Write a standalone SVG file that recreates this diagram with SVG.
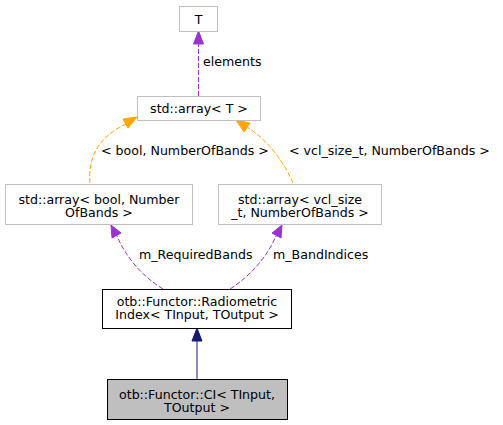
<svg xmlns="http://www.w3.org/2000/svg" width="503" height="425" viewBox="0 0 503 425">
<style>
text{font-family:"DejaVu Sans","Liberation Sans",sans-serif;font-size:12.6px;fill:#000}
.n{fill:#fff;stroke:#bfbfbf;stroke-width:1}
.b{fill:#fff;stroke:#000;stroke-width:1}
.g{fill:#bfbfbf;stroke:#000;stroke-width:1}
.o{fill:none;stroke:#ffa500;stroke-dasharray:5,2}
.p{fill:none;stroke:#9a32cd;stroke-dasharray:5,2}
.k{fill:none;stroke:#191970}
</style>
<rect width="503" height="425" fill="#fff"/>
<g id="edges">
<path class="p" d="M198.5,96 L198.5,42"/>
<polygon points="193.5,44 198.5,31 203.5,44" fill="#9a32cd" stroke="#9a32cd"/>
<text x="203" y="66">elements</text>
<path class="o" d="M90,183 C88,160 96,138 126,124"/>
<polygon points="123,119 137,117 128,128" fill="#ffa500" stroke="#ffa500"/>
<text x="101" y="155">&lt; bool, NumberOfBands &gt;</text>
<path class="o" d="M293,183 C284,162 268,140 247,127"/>
<polygon points="244,132 236,120 250,123" fill="#ffa500" stroke="#ffa500"/>
<text x="289" y="155">&lt; vcl_size_t, NumberOfBands &gt;</text>
<path class="p" d="M163,289 C140,275 125,255 117,236"/>
<polygon points="112,238 111,225 121,233" fill="#9a32cd" stroke="#9a32cd"/>
<text x="139" y="259">m_RequiredBands</text>
<path class="p" d="M230,289 C252,275 268,255 276,236"/>
<polygon points="272,233 282,225 281,238" fill="#9a32cd" stroke="#9a32cd"/>
<text x="273" y="259">m_BandIndices</text>
<path class="k" d="M197,379 L197,341"/>
<polygon points="192,341 197,328 202,341" fill="#191970" stroke="#191970"/>
</g>
<g id="T">
<rect class="n" x="179.5" y="6.5" width="38" height="25"/>
<text x="198.5" y="23.5" text-anchor="middle">T</text>
</g>
<g id="arrayT">
<rect class="n" x="137.5" y="96.5" width="123" height="24"/>
<text x="199" y="113" text-anchor="middle">std::array&lt; T &gt;</text>
</g>
<g id="arrayBool">
<rect class="n" x="5.5" y="184.5" width="187" height="40"/>
<text text-anchor="middle"><tspan x="99" y="203.5">std::array&lt; bool, Number</tspan><tspan x="99" y="216.5">OfBands &gt;</tspan></text>
</g>
<g id="arrayVcl">
<rect class="n" x="218.5" y="184.5" width="163" height="40"/>
<text text-anchor="middle"><tspan x="300" y="203.5">std::array&lt; vcl_size</tspan><tspan x="300" y="216.5">_t, NumberOfBands &gt;</tspan></text>
</g>
<g id="radiometric">
<rect class="b" x="102.5" y="289.5" width="189" height="39"/>
<text text-anchor="middle"><tspan x="197" y="306">otb::Functor::Radiometric</tspan><tspan x="197" y="319">Index&lt; TInput, TOutput &gt;</tspan></text>
</g>
<g id="ci">
<rect class="g" x="107.5" y="379.5" width="180" height="40"/>
<text text-anchor="middle"><tspan x="197" y="398.5">otb::Functor::CI&lt; TInput,</tspan><tspan x="197" y="411.5">TOutput &gt;</tspan></text>
</g>
</svg>
